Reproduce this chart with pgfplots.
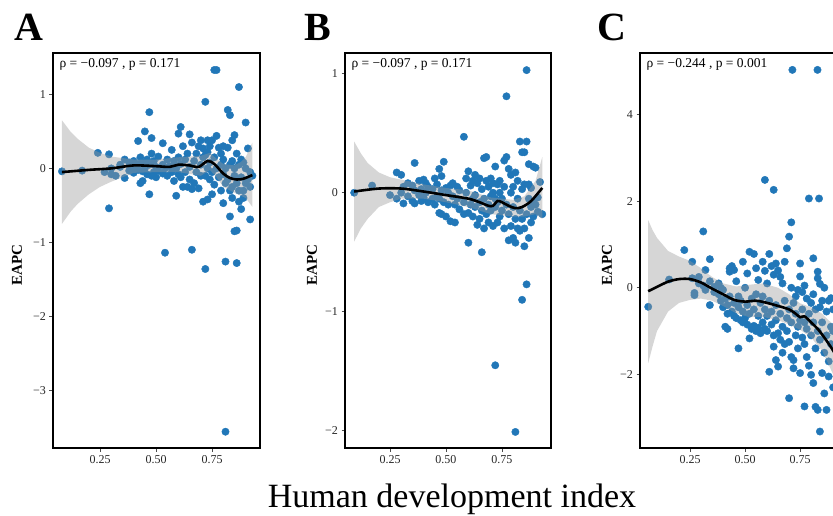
\documentclass[border=0pt]{standalone}
\usepackage{fontspec}
\setmainfont{Liberation Serif}
\usepackage{pgfplots}
\pgfplotsset{compat=1.18}
\definecolor{ptblue}{HTML}{2177B8}

\pgfplotsset{
  panel/.style={
    scale only axis,
    anchor=south west,
    clip=true,
    clip marker paths=true,
    axis line style={line width=1.8pt},
    tick pos=left,
    tick align=outside,
    major tick length=3.5pt,
    tick style={black!70, line width=0.8pt},
    xtick={0.25,0.5,0.75},
    xticklabels={0.25,0.50,0.75},
    ticklabel style={font=\fontsize{12}{12}\selectfont, text=black!85},
  },
  pts/.style={only marks, mark=*, mark size=3.7pt, color=ptblue, mark options={draw=none, fill=ptblue}},
  band/.style={fill=black!40, fill opacity=0.4, draw=none, no marks},
  loess/.style={black, line width=2.6pt, smooth, no marks},
}

\begin{document}
\begin{tikzpicture}

% ---------------- A ----------------
\begin{axis}[panel, at={(53pt,67pt)}, width=207pt, height=395pt,
  xmin=0.04, xmax=0.964, ymin=-3.78, ymax=1.56,
  ytick={-3,-2,-1,0,1}, yticklabels={−3,−2,−1,0,1}]
\addplot[pts] coordinates {
(0.08,-0.04)(0.17,-0.03)(0.24,0.21)(0.29,0.19)(0.29,-0.54)(0.27,-0.05)(0.30,-0.08)(0.30,0.00)(0.32,-0.10)(0.34,0.05)
(0.34,0.02)(0.36,0.12)(0.36,-0.13)(0.38,0.08)(0.38,-0.03)(0.40,0.03)(0.40,0.10)(0.40,-0.06)(0.42,0.37)(0.42,-0.02)
(0.42,0.06)(0.43,-0.20)(0.43,0.15)(0.44,-0.17)(0.44,0.08)(0.44,-0.04)(0.45,0.50)(0.45,0.00)(0.46,0.12)(0.46,-0.08)
(0.47,0.76)(0.47,-0.35)(0.47,0.05)(0.48,0.41)(0.48,0.20)(0.48,-0.10)(0.49,-0.05)(0.49,0.10)(0.50,0.02)(0.50,-0.12)
(0.51,0.16)(0.51,-0.03)(0.53,0.34)(0.53,0.05)(0.53,-0.07)(0.54,-1.14)(0.54,0.00)(0.55,0.12)(0.55,-0.10)(0.56,0.03)
(0.57,0.25)(0.57,-0.05)(0.58,-0.17)(0.58,0.10)(0.59,-0.37)(0.59,0.00)(0.60,0.47)(0.60,0.15)(0.60,-0.08)(0.61,0.56)
(0.61,0.06)(0.61,-0.12)(0.62,0.30)(0.62,-0.25)(0.63,-0.05)(0.63,0.12)(0.64,-0.25)(0.64,0.20)(0.65,0.46)(0.65,0.02)
(0.65,-0.15)(0.66,-1.10)(0.66,0.35)(0.66,-0.28)(0.67,0.10)(0.67,-0.20)(0.68,0.20)(0.68,-0.05)(0.69,0.30)(0.69,-0.27)
(0.70,0.38)(0.70,0.05)(0.70,-0.10)(0.71,0.27)(0.71,-0.45)(0.71,0.15)(0.72,0.90)(0.72,-1.36)(0.72,-0.10)(0.72,0.18)
(0.73,0.38)(0.73,-0.42)(0.73,0.00)(0.73,0.22)(0.74,0.30)(0.74,-0.15)(0.74,0.08)(0.75,-0.35)(0.75,0.38)(0.75,-0.05)
(0.76,1.33)(0.76,0.15)(0.76,-0.22)(0.77,1.33)(0.77,0.44)(0.77,0.00)(0.78,0.28)(0.78,-0.12)(0.79,0.20)(0.79,-0.30)
(0.79,0.05)(0.80,-0.47)(0.80,0.30)(0.80,-0.08)(0.80,0.12)(0.81,-1.26)(0.81,-3.56)(0.81,0.00)(0.81,-0.20)(0.82,0.79)
(0.82,0.28)(0.82,-0.15)(0.83,-0.65)(0.83,0.72)(0.83,-0.30)(0.83,0.05)(0.84,0.38)(0.84,-0.25)(0.84,-0.40)(0.84,0.10)
(0.85,0.45)(0.85,-0.85)(0.85,-0.10)(0.85,0.00)(0.86,-1.28)(0.86,-0.84)(0.86,-0.20)(0.86,0.20)(0.87,1.10)(0.87,-0.45)
(0.87,0.05)(0.87,-0.30)(0.88,-0.55)(0.88,0.12)(0.88,-0.12)(0.89,-0.30)(0.89,0.08)(0.89,-0.40)(0.90,0.62)(0.90,-0.20)
(0.90,0.00)(0.91,0.27)(0.91,-0.15)(0.92,-0.69)(0.92,-0.05)(0.92,-0.25)(0.93,-0.10)
};
% confidence band: upper edge left to right, lower edge right to left
\addplot[band] coordinates {
(0.08,0.65)(0.12,0.49)(0.15,0.40)(0.2,0.28)(0.25,0.21)(0.3,0.16)(0.4,0.12)(0.5,0.12)(0.6,0.15)(0.7,0.17)(0.74,0.21)(0.77,0.13)(0.8,0.06)(0.85,0.04)(0.88,0.09)(0.9,0.15)(0.93,0.35)
(0.93,-0.52)(0.9,-0.40)(0.85,-0.33)(0.8,-0.25)(0.77,-0.12)(0.74,-0.02)(0.7,-0.10)(0.6,-0.05)(0.5,-0.05)(0.4,-0.06)(0.3,-0.18)(0.25,-0.25)(0.2,-0.35)(0.15,-0.48)(0.12,-0.58)(0.08,-0.75)} -- cycle;
\addplot[loess] coordinates {
(0.08,-0.05)(0.2,-0.02)(0.3,0.0)(0.4,0.04)(0.5,0.03)(0.56,0.02)(0.6,0.05)(0.65,0.04)(0.69,0.02)(0.73,0.10)(0.76,0.06)(0.8,-0.07)(0.83,-0.13)(0.86,-0.15)(0.89,-0.14)(0.93,-0.09)};
\node[anchor=west, font=\fontsize{13.5}{13.5}\selectfont] at (axis description cs:0.015,0.97) {ρ = −0.097 , p = 0.171};
\end{axis}

% ---------------- B ----------------
\begin{axis}[panel, at={(345pt,67pt)}, width=206pt, height=395pt,
  xmin=0.049, xmax=0.969, ymin=-2.145, ymax=1.174,
  ytick={-2,-1,0,1}, yticklabels={−2,−1,0,1}]
\addplot[pts] coordinates {
(0.09,0.00)(0.17,0.06)(0.25,-0.02)(0.28,0.17)(0.28,-0.05)(0.30,0.15)(0.30,0.00)(0.31,-0.09)(0.31,0.05)(0.33,0.08)
(0.33,-0.03)(0.35,0.06)(0.35,-0.07)(0.36,0.25)(0.36,-0.09)(0.36,0.02)(0.38,0.10)(0.38,-0.02)(0.39,0.03)(0.39,-0.07)
(0.40,0.11)(0.40,-0.04)(0.41,0.08)(0.41,0.00)(0.42,-0.08)(0.42,0.05)(0.44,0.03)(0.44,-0.05)(0.45,0.12)(0.45,-0.10)
(0.46,-0.03)(0.46,0.07)(0.47,-0.17)(0.47,0.20)(0.47,-0.05)(0.48,0.14)(0.48,-0.18)(0.48,0.02)(0.49,0.26)(0.49,-0.08)
(0.50,-0.20)(0.50,0.04)(0.51,-0.10)(0.51,0.00)(0.52,-0.24)(0.52,0.06)(0.53,-0.03)(0.53,0.08)(0.54,-0.25)(0.54,-0.10)
(0.55,0.05)(0.55,-0.05)(0.56,-0.14)(0.56,0.02)(0.58,0.47)(0.58,-0.08)(0.58,-0.18)(0.59,0.00)(0.59,0.12)(0.60,-0.42)
(0.60,-0.17)(0.60,0.18)(0.61,0.06)(0.61,-0.10)(0.62,0.10)(0.62,-0.20)(0.62,-0.05)(0.63,-0.12)(0.63,0.15)(0.63,-0.02)
(0.64,-0.27)(0.64,0.08)(0.65,-0.22)(0.65,0.12)(0.65,-0.08)(0.66,-0.50)(0.66,-0.15)(0.66,0.03)(0.67,0.29)(0.67,-0.30)
(0.67,-0.05)(0.68,0.30)(0.68,0.10)(0.68,-0.18)(0.69,-0.10)(0.69,0.05)(0.69,-0.25)(0.70,-0.03)(0.70,-0.15)(0.70,0.12)
(0.71,0.00)(0.71,-0.28)(0.71,0.08)(0.72,-1.45)(0.72,0.22)(0.72,-0.12)(0.72,-0.05)(0.73,0.07)(0.73,-0.25)(0.73,-0.08)
(0.74,-0.20)(0.74,0.00)(0.74,0.10)(0.75,-0.05)(0.75,-0.15)(0.76,0.27)(0.76,0.05)(0.76,-0.30)(0.77,0.81)(0.77,0.30)
(0.77,-0.10)(0.78,-0.18)(0.78,0.20)(0.78,-0.40)(0.79,0.00)(0.79,-0.28)(0.79,0.15)(0.80,-0.38)(0.80,-0.12)(0.80,0.05)
(0.81,-2.01)(0.81,-0.42)(0.81,0.17)(0.81,-0.22)(0.82,-0.05)(0.82,-0.30)(0.82,0.10)(0.83,0.43)(0.83,-0.15)(0.83,-0.32)
(0.84,-0.90)(0.84,0.34)(0.84,-0.22)(0.84,0.03)(0.85,0.34)(0.85,-0.45)(0.85,0.07)(0.85,-0.30)(0.86,1.03)(0.86,0.43)
(0.86,-0.77)(0.86,-0.18)(0.87,0.24)(0.87,-0.38)(0.87,0.07)(0.87,-0.05)(0.88,-0.12)(0.88,-0.25)(0.88,0.04)(0.89,0.22)
(0.89,-0.20)(0.89,-0.08)(0.90,0.21)(0.90,-0.10)(0.91,-0.04)(0.91,-0.16)(0.92,0.09)(0.93,-0.18)
};
\addplot[band] coordinates {
(0.09,0.43)(0.12,0.33)(0.15,0.25)(0.2,0.17)(0.25,0.13)(0.3,0.11)(0.4,0.07)(0.5,0.04)(0.6,0.02)(0.7,-0.04)(0.8,-0.06)(0.85,-0.03)(0.9,0.10)(0.93,0.30)
(0.93,-0.22)(0.9,-0.18)(0.85,-0.20)(0.8,-0.20)(0.7,-0.18)(0.6,-0.12)(0.5,-0.08)(0.4,-0.05)(0.3,-0.05)(0.25,-0.08)(0.2,-0.12)(0.15,-0.22)(0.12,-0.30)(0.09,-0.41)} -- cycle;
\addplot[loess] coordinates {
(0.09,0.01)(0.2,0.035)(0.3,0.035)(0.4,0.01)(0.5,-0.02)(0.6,-0.05)(0.65,-0.08)(0.69,-0.11)(0.71,-0.11)(0.73,-0.07)(0.75,-0.08)(0.78,-0.11)(0.81,-0.13)(0.84,-0.12)(0.88,-0.07)(0.93,0.04)};
\node[anchor=west, font=\fontsize{13.5}{13.5}\selectfont] at (axis description cs:0.015,0.97) {ρ = −0.097 , p = 0.171};
\end{axis}

% ---------------- C ----------------
\begin{axis}[panel, at={(640pt,67pt)}, width=205pt, height=395pt,
  xmin=0.0227, xmax=0.954, ymin=-3.70, ymax=5.42,
  ytick={-2,0,2,4}, yticklabels={−2,0,2,4}]
\addplot[pts] coordinates {
(0.06,-0.44)(0.155,0.19)(0.224,0.87)(0.26,0.60)(0.26,0.22)(0.27,-0.17)(0.27,-0.12)(0.29,0.10)(0.29,0.25)(0.31,1.30)
(0.31,0.05)(0.32,0.41)(0.32,-0.05)(0.34,0.66)(0.34,-0.40)(0.34,0.15)(0.36,0.02)(0.36,-0.10)(0.38,0.10)(0.38,-0.15)
(0.39,0.00)(0.39,-0.30)(0.40,-0.05)(0.40,-0.45)(0.41,-0.90)(0.41,-0.25)(0.42,-0.95)(0.42,-0.40)(0.42,-0.60)(0.43,0.45)
(0.43,0.37)(0.43,-0.20)(0.44,0.50)(0.44,-0.55)(0.45,0.41)(0.45,-0.35)(0.45,-0.65)(0.46,0.15)(0.46,-0.70)(0.47,-1.40)
(0.47,-0.45)(0.47,-0.20)(0.48,-0.75)(0.48,-0.30)(0.49,0.60)(0.49,-0.55)(0.49,-0.80)(0.50,0.00)(0.50,-0.70)(0.51,0.33)
(0.51,-0.85)(0.51,-0.40)(0.52,0.83)(0.52,-1.17)(0.52,-0.60)(0.53,-0.25)(0.53,-0.95)(0.54,0.78)(0.54,-0.50)(0.54,-0.88)
(0.55,0.45)(0.55,-1.00)(0.55,-0.15)(0.56,0.18)(0.56,-0.65)(0.56,-0.92)(0.57,-0.35)(0.57,-1.05)(0.58,0.60)(0.58,-0.20)
(0.58,-0.80)(0.59,2.49)(0.59,0.39)(0.59,-0.95)(0.59,-0.50)(0.60,0.10)(0.60,-0.65)(0.60,-1.00)(0.61,0.78)(0.61,-1.94)
(0.61,-0.30)(0.62,0.50)(0.62,-0.55)(0.62,-0.85)(0.63,2.26)(0.63,-1.36)(0.63,0.30)(0.63,-1.10)(0.64,-1.67)(0.64,0.56)
(0.64,-0.40)(0.64,-0.75)(0.65,0.40)(0.65,-1.82)(0.65,-1.05)(0.66,0.25)(0.66,-0.60)(0.66,-1.20)(0.67,0.10)(0.67,-0.90)
(0.67,-1.50)(0.68,0.60)(0.68,-1.30)(0.68,-0.30)(0.69,0.91)(0.69,-0.70)(0.69,-1.00)(0.70,1.18)(0.70,-2.55)(0.70,-0.50)
(0.70,-1.25)(0.71,1.51)(0.71,-0.80)(0.71,-1.60)(0.71,0.00)(0.715,5.03)(0.72,-1.67)(0.72,-1.86)(0.72,-0.35)(0.73,-1.10)
(0.73,-0.60)(0.73,-0.20)(0.74,-0.90)(0.74,-1.40)(0.74,-0.05)(0.75,0.56)(0.75,0.26)(0.75,-1.97)(0.75,-0.75)(0.76,-0.50)
(0.76,-1.15)(0.76,-0.10)(0.77,-2.74)(0.77,-0.80)(0.77,-1.30)(0.77,0.05)(0.78,-0.25)(0.78,-1.60)(0.78,-0.95)(0.79,2.06)
(0.79,-0.60)(0.79,-1.80)(0.80,-2.01)(0.80,-1.10)(0.80,-0.35)(0.81,0.68)(0.81,-2.20)(0.81,-0.80)(0.81,-0.15)(0.82,-2.75)
(0.82,-1.40)(0.82,-0.50)(0.83,0.37)(0.83,0.22)(0.83,-2.82)(0.83,-1.00)(0.829,5.03)(0.836,2.06)(0.84,-3.32)(0.84,0.09)
(0.84,-1.20)(0.84,-0.45)(0.85,-1.97)(0.85,-0.30)(0.85,-0.80)(0.86,-2.44)(0.86,-1.50)(0.86,0.00)(0.87,-2.82)(0.87,-0.55)
(0.87,-1.10)(0.88,-0.30)(0.88,-1.70)(0.88,-2.05)(0.89,-0.24)(0.89,-0.90)(0.89,-1.30)(0.90,-0.50)(0.90,-2.30)(0.90,-1.00)
(0.92,-0.20)(0.92,-1.40)(0.92,-0.70)(0.94,-0.60)(0.94,-1.20)(0.94,-2.50)
};
\addplot[band] coordinates {
(0.06,1.56)(0.08,1.33)(0.1,1.15)(0.15,0.85)(0.2,0.72)(0.25,0.62)(0.3,0.45)(0.35,0.25)(0.4,0.10)(0.46,0.03)(0.52,0.07)(0.58,0.10)(0.65,0.0)(0.7,-0.15)(0.75,-0.36)(0.8,-0.45)(0.85,-0.60)(0.9,-0.85)(0.95,-1.1)
(0.95,-2.7)(0.9,-2.0)(0.85,-1.45)(0.8,-1.15)(0.75,-0.97)(0.7,-0.85)(0.65,-0.75)(0.58,-0.67)(0.52,-0.68)(0.46,-0.59)(0.4,-0.42)(0.35,-0.30)(0.3,-0.25)(0.25,-0.28)(0.2,-0.35)(0.15,-0.55)(0.1,-1.0)(0.08,-1.35)(0.06,-1.74)} -- cycle;
\addplot[loess] coordinates {
(0.06,-0.08)(0.1,0.02)(0.15,0.14)(0.2,0.2)(0.25,0.2)(0.3,0.12)(0.35,-0.02)(0.4,-0.15)(0.45,-0.28)(0.5,-0.32)(0.55,-0.30)(0.6,-0.35)(0.65,-0.42)(0.7,-0.50)(0.73,-0.60)(0.75,-0.68)(0.77,-0.66)(0.8,-0.80)(0.83,-0.95)(0.86,-1.15)(0.9,-1.45)(0.95,-1.9)};
\node[anchor=west, font=\fontsize{13.5}{13.5}\selectfont] at (axis description cs:0.015,0.97) {ρ = −0.244 , p = 0.001};
\end{axis}

% y-axis titles
\node[rotate=90, font=\fontsize{15}{15}\selectfont\bfseries] at (17pt,250pt) {EAPC};
\node[rotate=90, font=\fontsize{15}{15}\selectfont\bfseries] at (312pt,250pt) {EAPC};
\node[rotate=90, font=\fontsize{15}{15}\selectfont\bfseries] at (607pt,250pt) {EAPC};

% panel tags and shared x title
\node[font=\fontsize{40}{40}\selectfont\bfseries] at (29pt,487.5pt) {A};
\node[font=\fontsize{40}{40}\selectfont\bfseries] at (318pt,487.5pt) {B};
\node[font=\fontsize{40}{40}\selectfont\bfseries] at (612pt,487.5pt) {C};
\node[font=\fontsize{34}{34}\selectfont, anchor=base] at (452pt,8pt) {Human development index};

\pgfresetboundingbox
\useasboundingbox (0,0) rectangle (833pt,515pt);
\end{tikzpicture}
\end{document}
